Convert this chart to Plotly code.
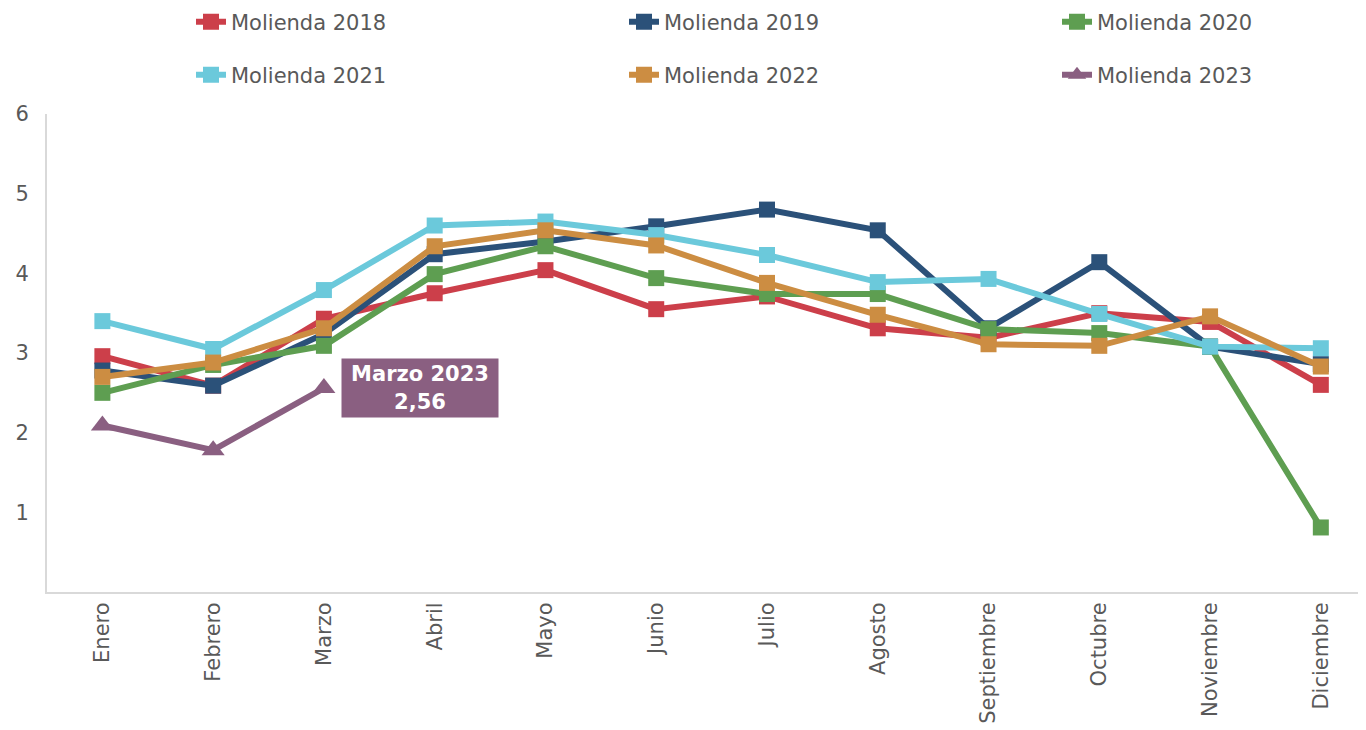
import plotly.graph_objects as go

meses = ["Enero", "Febrero", "Marzo", "Abril", "Mayo", "Junio", "Julio",
         "Agosto", "Septiembre", "Octubre", "Noviembre", "Diciembre"]

m2018 = [2.96, 2.59, 3.43, 3.75, 4.04, 3.55, 3.71, 3.31, 3.19, 3.50, 3.39, 2.60]
m2019 = [2.78, 2.59, 3.24, 4.24, 4.40, 4.59, 4.80, 4.54, 3.31, 4.14, 3.08, 2.86]
m2020 = [2.50, 2.85, 3.09, 3.99, 4.34, 3.94, 3.74, 3.74, 3.30, 3.25, 3.08, 0.81]
m2021 = [3.40, 3.05, 3.79, 4.60, 4.65, 4.48, 4.23, 3.89, 3.93, 3.49, 3.08, 3.06]
m2022 = [2.70, 2.88, 3.31, 4.34, 4.54, 4.35, 3.88, 3.48, 3.11, 3.09, 3.46, 2.83]
m2023 = [2.09, 1.78, 2.56]

series = [
    ("Molienda 2018", m2018, "#CC3F4A", "square", 16),
    ("Molienda 2019", m2019, "#2B5179", "square", 16),
    ("Molienda 2020", m2020, "#5E9E51", "square", 16),
    ("Molienda 2021", m2021, "#6BC9DB", "square", 16),
    ("Molienda 2022", m2022, "#CC8D42", "square", 16),
    ("Molienda 2023", m2023, "#8A5F81", "triangle-up", 20),
]

FONT = "Verdana, DejaVu Sans, sans-serif"
GRAY = "#595959"
FS = 21

# legend placement (column x, row center y), in figure pixels
leg_cols = [183, 616, 1049]
leg_rows = [14, 67]

fig = go.Figure()
legends = {}
for i, (name, vals, color, sym, msize) in enumerate(series):
    key = "legend" if i == 0 else f"legend{i+1}"
    fig.add_trace(go.Scatter(
        x=meses[:len(vals)], y=vals, name=name, mode="lines+markers",
        line=dict(color=color, width=6),
        marker=dict(symbol=sym, size=msize, color=color),
        legend=key,
    ))
    legends[key] = dict(
        orientation="h", xref="container", yref="container",
        x=leg_cols[i % 3] / 1366, y=1 - leg_rows[i // 3] / 730,
        xanchor="left", yanchor="middle",
        font=dict(family=FONT, size=FS, color=GRAY), bgcolor="rgba(0,0,0,0)",
    )

fig.add_annotation(
    x="Marzo", y=m2023[2], text="<b>Marzo 2023<br>2,56</b>",
    showarrow=False, xanchor="left", xshift=17,
    font=dict(family=FONT, size=FS, color="white"),
    bgcolor="#8A5F81", width=150, height=52, borderpad=3,
)

fig.update_layout(
    width=1366, height=730,
    margin=dict(l=39, r=0, t=106, b=146),
    paper_bgcolor="white", plot_bgcolor="white",
    font=dict(family=FONT, size=FS, color=GRAY),
    showlegend=True,
    xaxis=dict(
        type="category", categoryorder="array", categoryarray=meses,
        range=[-0.5, 11.48], tickangle=-90, showgrid=False, automargin=False,
        showline=True, linecolor="#D9D9D9", linewidth=2, ticks="",
        tickfont=dict(family=FONT, size=FS, color=GRAY),
    ),
    yaxis=dict(
        range=[0, 6], tickvals=[1, 2, 3, 4, 5, 6], showgrid=False, automargin=False,
        showline=True, linecolor="#D9D9D9", linewidth=2, ticks="",
        zeroline=False, tickfont=dict(family=FONT, size=FS, color=GRAY),
        ticklabelstandoff=12,
    ),
    **legends,
)

fig.write_html("out.html")
